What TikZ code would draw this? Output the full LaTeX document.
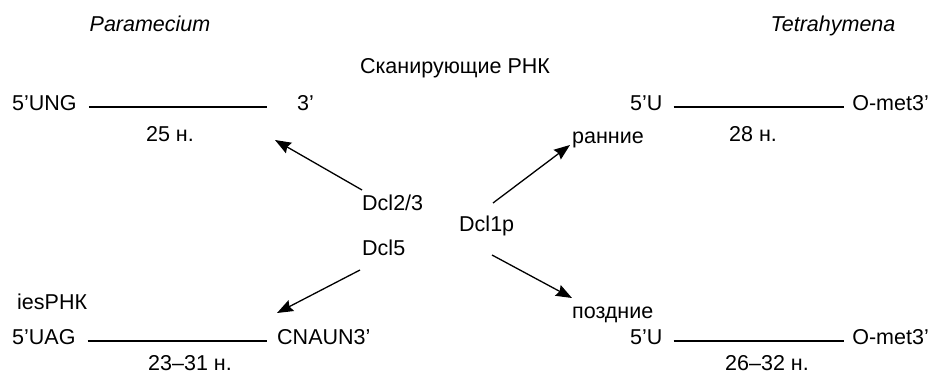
\documentclass[tikz,border=0pt]{standalone}
\usepackage{fontspec}
\setmainfont{Liberation Sans}
\usetikzlibrary{arrows.meta}
\begin{document}
\begin{tikzpicture}[x=1pt,y=-1pt,
  lbl/.style={inner sep=0pt,font=\fontsize{21.5}{24}\selectfont,text height=0.72em,text depth=0pt},
  ital/.style={lbl,font=\fontsize{21.5}{24}\selectfont\itshape},
  rna/.style={line width=1.3pt},
  arr/.style={line width=1.3pt,-{Stealth[length=16pt,width=12pt,inset=2pt]}}]
\useasboundingbox (0,0) rectangle (931,374);
% titles
\node[ital] (par) at (150,28) {Paramecium};
\node[ital] (tet) at (833,28) {Tetrahymena};
\node[lbl] (scan) at (455,70) {Сканирующие РНК};
% top left
\node[lbl,anchor=west] (ung) at (12,107) {5’UNG};
\node[lbl,anchor=west] (t3) at (297,107) {3’};
\draw[rna] ([xshift=12pt]ung.east) -- ([xshift=-30pt]t3.west);
\node[lbl] (n25) at (170,138) {25 н.};
% bottom left
\node[lbl,anchor=west] (ies) at (17,306) {iesРНК};
\node[lbl,anchor=west] (uag) at (12,341) {5’UAG};
\node[lbl,anchor=west] (cna) at (277,341) {CNAUN3’};
\draw[rna] ([xshift=12pt]uag.east) -- ([xshift=-10pt]cna.west);
\node[lbl] (n2331) at (190,367) {23–31 н.};
% top right
\node[lbl,anchor=west] (u1) at (630,107) {5’U};
\node[lbl,anchor=east] (om1) at (929,107) {O-met3’};
\draw[rna] ([xshift=11pt]u1.east) -- ([xshift=-8pt]om1.west);
\node[lbl] (n28) at (753,138) {28 н.};
\node[lbl,anchor=west] (early) at (572,140) {ранние};
% bottom right
\node[lbl,anchor=west] (late) at (572,315) {поздние};
\node[lbl,anchor=west] (u2) at (630,341) {5’U};
\node[lbl,anchor=east] (om2) at (929,341) {O-met3’};
\draw[rna] ([xshift=11pt]u2.east) -- ([xshift=-8pt]om2.west);
\node[lbl] (n2632) at (767,367) {26–32 н.};
% enzymes
\node[lbl,anchor=west] (dcl23) at (362,207) {Dcl2/3};
\node[lbl,anchor=west] (dcl5) at (362,252) {Dcl5};
\node[lbl,anchor=west] (dcl1) at (459,228) {Dcl1p};
% arrow ends
\coordinate (a1s) at (362,190); \coordinate (a1e) at (275,140);
\coordinate (a2s) at (360,270); \coordinate (a2e) at (277,313);
\coordinate (a3s) at (493,203); \coordinate (a3e) at (570,145);
\coordinate (a4s) at (492,255); \coordinate (a4e) at (572,298);
\draw[arr] (a1s) -- (a1e);
\draw[arr] (a2s) -- (a2e);
\draw[arr] (a3s) -- (a3e);
\draw[arr] (a4s) -- (a4e);
\end{tikzpicture}
\end{document}
